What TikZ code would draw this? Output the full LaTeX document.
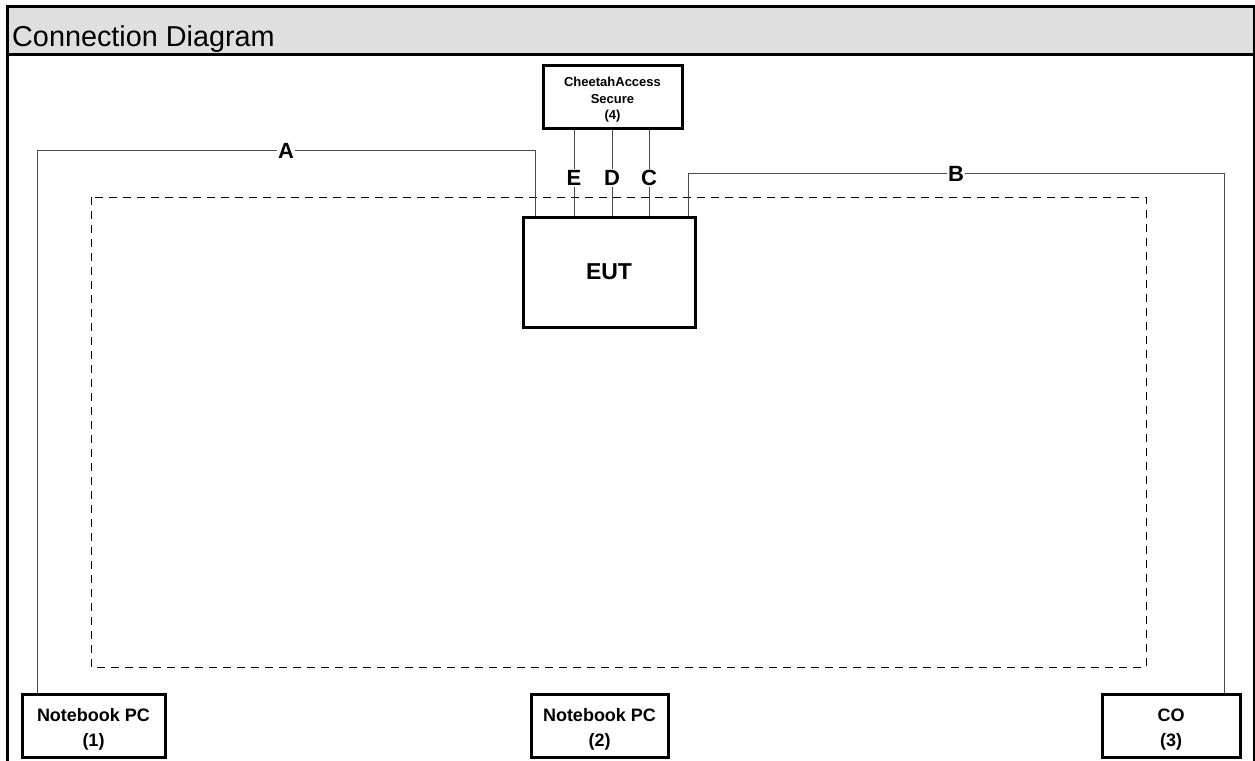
\documentclass[tikz,border=0pt]{standalone}
\usepackage{fontspec}
\setmainfont{Liberation Sans}
\usetikzlibrary{calc}
\definecolor{headgray}{HTML}{DFDFDF}
\definecolor{wiregray}{HTML}{4A4A4A}
\newcommand{\topgap}[1]{\rule{0pt}{#1}}
\begin{document}
\begin{tikzpicture}[x=1pt, y=-1pt,
    unit/.style={draw, line width=3pt, fill=white, align=center, inner sep=0pt,
        font=\bfseries\fontsize{18}{25}\selectfont},
    wire/.style={wiregray, line width=1pt},
    lbl/.style={fill=white, inner sep=1.5pt, text=black, font=\bfseries\fontsize{22}{24}\selectfont}]
    \useasboundingbox (0,0) rectangle (1255,760);
    % frame and title bar
    \fill[headgray] (7,7) rectangle (1254,55);
    \draw[line width=3pt] (7,770) -- (7,7) -- (1254,7) -- (1254,770);
    \draw[line width=3pt] (7,55) -- (1254,55);
    \node[anchor=base west, inner sep=0pt, font=\fontsize{28.8}{30}\selectfont] (title) at (12,47) {Connection Diagram};
    % table outline
    \draw[line width=1pt, dash pattern=on 8pt off 6pt] (91,197) rectangle (1146,667);
    % units
    \node[unit, minimum width=172pt, minimum height=110pt, font=\bfseries\fontsize{23}{25}\selectfont] (eut) at (609,272) {EUT};
    \node[unit, minimum width=139pt, minimum height=62pt, font=\bfseries\fontsize{13}{16.5}\selectfont] (cas) at (612.5,97) {\topgap{15.5pt}CheetahAccess\\Secure\\(4)};
    \node[unit, minimum width=143pt, minimum height=63pt] (nb1) at (93.5,725.5) {\topgap{20pt}Notebook PC\\(1)};
    \node[unit, minimum width=137pt, minimum height=63pt] (nb2) at (599.5,725.5) {\topgap{20pt}Notebook PC\\(2)};
    \node[unit, minimum width=138pt, minimum height=63pt] (co) at (1171,725.5) {\topgap{20pt}CO\\(3)};
    % cables
    \draw[wire] ($(nb1.north)+(-56.5,0)$) |- node[lbl, pos=0.75] (labA) {A} ($(eut.north)+(-74,-65)$) -- ($(eut.north)+(-74,0)$);
    \draw[wire] ($(eut.north)+(79,0)$) -- ($(eut.north)+(79,-42)$) -| node[lbl, pos=0.25] (labB) {B} ($(co.north)+(53,0)$);
    \foreach \n/\x in {E/574, D/612, C/649} {
        \node[lbl] (l\n) at (\x,178) {\n};
        \draw[wire] (cas.south -| l\n) -- (l\n) -- (eut.north -| l\n);
    }
\end{tikzpicture}
\end{document}
